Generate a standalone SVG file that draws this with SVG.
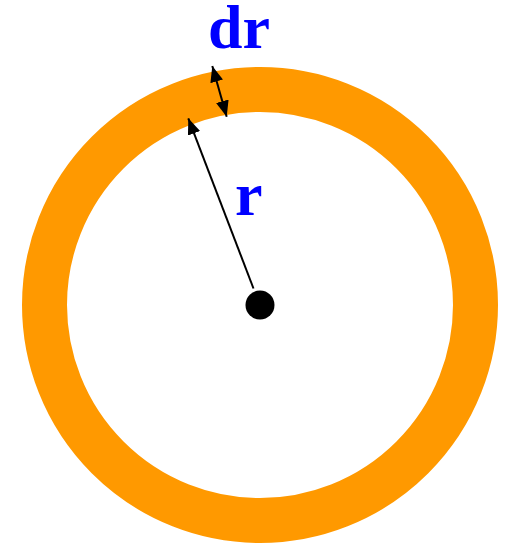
<svg xmlns="http://www.w3.org/2000/svg" width="507" height="546" viewBox="0 0 507 546">
<style>
.lbl{font-family:"Liberation Serif","Times New Roman",serif;font-weight:bold;font-size:62px;fill:#0000FF}
.arr{stroke:#000;stroke-width:2;fill:none}
</style>
<defs>
<marker id="ah" markerUnits="userSpaceOnUse" markerWidth="17" markerHeight="14" refX="16" refY="6.5" orient="auto-start-reverse">
<path d="M0,0 L16,6.5 L0,13 Z" fill="#000"/>
</marker>
</defs>
<rect width="507" height="546" fill="#fff"/>
<g id="ring">
<circle cx="260" cy="305" r="215.5" fill="none" stroke="#FF9900" stroke-width="45"/>
</g>
<g id="center">
<circle cx="260" cy="305" r="14.5" fill="#000"/>
</g>
<g id="connectors">
<line class="arr" x1="253.5" y1="288.5" x2="188.3" y2="118.3" marker-end="url(#ah)"/>
<line class="arr" x1="212.3" y1="66" x2="226.7" y2="116.7" marker-start="url(#ah)" marker-end="url(#ah)"/>
</g>
<g id="labels">
<text class="lbl" x="208" y="48">dr</text>
<text class="lbl" x="235" y="215">r</text>
</g>
</svg>
